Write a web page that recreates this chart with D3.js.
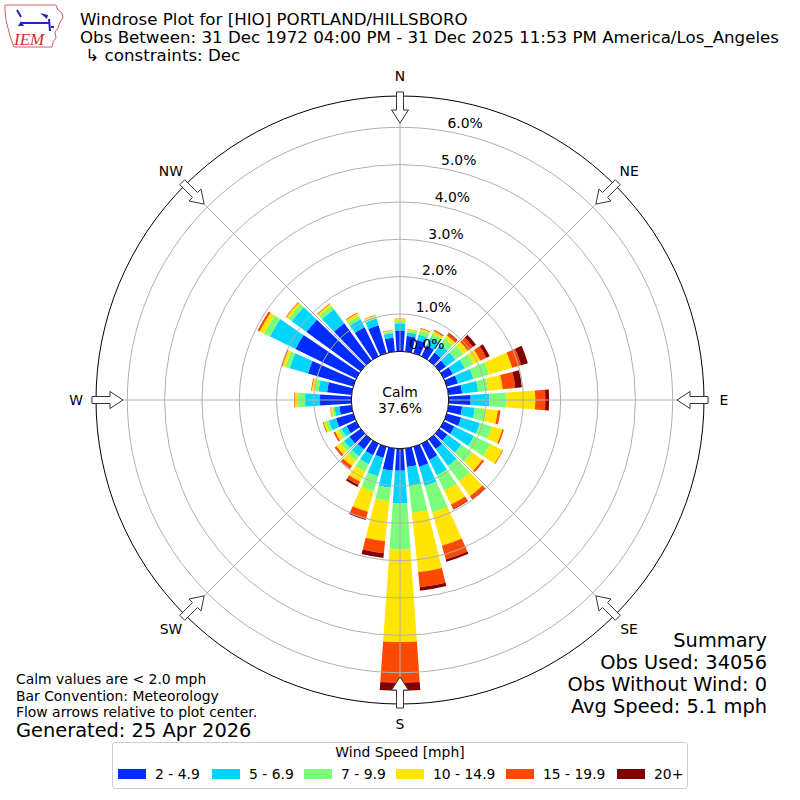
<!DOCTYPE html>
<html>
<head>
<meta charset="utf-8">
<script src="https://cdn.jsdelivr.net/npm/d3@7"></script>
<style>
  body { margin: 0; background: #fff; }
  text { font-family: "DejaVu Sans", sans-serif; fill: #000; }
</style>
</head>
<body>
<svg width="800" height="800"></svg>
<script>
// direcciones cada 10 grados, convención meteorológica
var directions = d3.range(0, 360, 10);
var speedBins = ["2 - 4.9", "5 - 6.9", "7 - 9.9", "10 - 14.9", "15 - 19.9", "20+"];
var binColors = ["#002cff", "#00d4ff", "#7bff7b", "#ffe500", "#ff4900", "#800000"];
// porcentaje de observaciones por direccion y rango de velocidad
var bin2to5 = [0.56, 0.42, 0.37, 0.32, 0.27, 0.22, 0.27, 0.31, 0.37, 0.59, 0.37, 0.40, 0.32, 0.27, 0.32, 0.48, 0.56, 0.50,
               0.59, 0.60, 0.31, 0.34, 0.33, 0.37, 0.29, 0.48, 0.33, 0.84, 0.66, 1.26, 1.81, 1.79, 1.24, 0.86, 0.78, 0.37];
var bin5to7 = [0.19, 0.10, 0.15, 0.24, 0.26, 0.31, 0.36, 0.43, 0.43, 0.50, 0.34, 0.52, 0.58, 0.46, 0.56, 0.46, 0.53, 0.51,
               0.88, 0.46, 0.51, 0.27, 0.23, 0.18, 0.15, 0.20, 0.13, 0.40, 0.23, 0.51, 0.76, 0.49, 0.46, 0.24, 0.19, 0.13];
var bin7to10 = [0.07, 0.05, 0.11, 0.12, 0.20, 0.26, 0.26, 0.44, 0.27, 0.46, 0.30, 0.34, 0.49, 0.36, 0.51, 0.46, 0.74, 0.73,
                1.23, 0.36, 0.43, 0.23, 0.15, 0.12, 0.10, 0.09, 0.06, 0.20, 0.10, 0.12, 0.18, 0.12, 0.12, 0.10, 0.06, 0.05];
var bin10to15 = [0.05, 0.03, 0.05, 0.07, 0.10, 0.15, 0.20, 0.64, 0.39, 0.77, 0.32, 0.29, 0.36, 0.33, 0.49, 0.41, 0.93, 1.59,
                 2.48, 1.08, 0.56, 0.29, 0.17, 0.13, 0.09, 0.06, 0.05, 0.07, 0.08, 0.08, 0.13, 0.06, 0.06, 0.08, 0.03, 0.03];
var bin15to20 = [0.01, 0.01, 0.02, 0.03, 0.07, 0.17, 0.18, 0.25, 0.34, 0.27, 0.07, 0.04, 0.02, 0.06, 0.10, 0.13, 0.38, 0.41,
                 1.09, 0.32, 0.20, 0.10, 0.09, 0.05, 0.05, 0.02, 0.01, 0.02, 0.02, 0.03, 0.06, 0.02, 0.02, 0.02, 0.01, 0.01];
var bin20up = [0, 0, 0, 0.01, 0.02, 0.10, 0.10, 0.19, 0.18, 0.10, 0, 0, 0, 0, 0.02, 0.02, 0.06, 0.09,
               0.21, 0.13, 0.03, 0.06, 0.01, 0.01, 0, 0, 0, 0, 0, 0, 0, 0, 0, 0, 0, 0];
var rTicks = [0, 1, 2, 3, 4, 5, 6];
var compassLabels = ["N", "NE", "E", "SE", "S", "SW", "W", "NW"];
var titleLines = ["Windrose Plot for [HIO] PORTLAND/HILLSBORO",
                  "Obs Between: 31 Dec 1972 04:00 PM - 31 Dec 2025 11:53 PM America/Los_Angeles",
                  " \u21b3 constraints: Dec"];
var notes = ["Calm values are < 2.0 mph", "Bar Convention: Meteorology", "Flow arrows relative to plot center."];
var summary = ["Summary", "Obs Used: 34056", "Obs Without Wind: 0", "Avg Speed: 5.1 mph"];
var calmPct = "37.6%";

var bins = [bin2to5, bin5to7, bin7to10, bin10to15, bin15to20, bin20up];

var svg = d3.select("svg"),
  cx = 400, cy = 400,
  outerR = 304,
  r = d3.scaleLinear().domain([0, 6]).range([48.7, 272.7]),
  calmR = r(0),
  rad = Math.PI / 180,
  fs = 13.9;

var g = svg.append("g").attr("transform", "translate(" + cx + "," + cy + ")");

// barras apiladas
var arc = d3.arc();
directions.forEach(function(dir, i) {
  var cum = 0;
  bins.forEach(function(b, k) {
    var v = b[i];
    if (v > 0) {
      g.append("path")
        .attr("d", arc({innerRadius: r(cum), outerRadius: r(cum + v),
                        startAngle: (dir - 4) * rad, endAngle: (dir + 4) * rad}))
        .attr("fill", binColors[k]);
    }
    cum += v;
  });
});

// rejilla por encima de las barras
rTicks.slice(1).forEach(function(t) {
  g.append("circle").attr("r", r(t)).attr("fill", "none").attr("stroke", "#b0b0b0").attr("stroke-width", 1);
});
d3.range(0, 360, 45).forEach(function(a) {
  g.append("line")
    .attr("x1", 0).attr("y1", 0)
    .attr("x2", outerR * Math.sin(a * rad)).attr("y2", -outerR * Math.cos(a * rad))
    .attr("stroke", "#b0b0b0").attr("stroke-width", 1);
});
g.append("circle").attr("r", outerR).attr("fill", "none").attr("stroke", "#000").attr("stroke-width", 1);

// flechas de flujo
function pt(a, rr, off) {
  return [rr * Math.sin(a) + off * Math.cos(a), -rr * Math.cos(a) + off * Math.sin(a)];
}
compassLabels.forEach(function(lbl, i) {
  var a = i * 45 * rad;
  var pts = [[308, -3.5], [290, -3.5], [290, -8.5], [277, 0], [290, 8.5], [290, 3.5], [308, 3.5]]
    .map(function(p) { return pt(a, p[0], p[1]); });
  g.append("path")
    .attr("d", "M" + pts.join("L") + "Z")
    .attr("fill", "#fff").attr("stroke", "#333").attr("stroke-width", 1);
  var lp = pt(a, 324, 0);
  g.append("text")
    .attr("x", lp[0]).attr("y", lp[1])
    .attr("text-anchor", "middle").attr("dominant-baseline", "central")
    .attr("font-size", fs)
    .text(lbl);
});

// circulo de calma
g.append("circle").attr("r", calmR).attr("fill", "#fff").attr("stroke", "#000").attr("stroke-width", 1);
g.append("text").attr("y", -8).attr("text-anchor", "middle").attr("dominant-baseline", "central")
  .attr("font-size", fs).text("Calm");
g.append("text").attr("y", 8).attr("text-anchor", "middle").attr("dominant-baseline", "central")
  .attr("font-size", fs).text(calmPct);

// etiquetas radiales
var la = 9.8 * rad;
rTicks.forEach(function(t) {
  g.append("text")
    .attr("x", r(t) * Math.sin(la) + 1)
    .attr("y", -r(t) * Math.cos(la) - 8)
    .attr("dominant-baseline", "central")
    .attr("font-size", fs)
    .text(t.toFixed(1) + "%");
});

// titulo
titleLines.forEach(function(t, i) {
  svg.append("text").attr("x", 80).attr("y", 25 + i * 18).attr("font-size", 16.67)
    .style("white-space", "pre").text(t);
});

// logo IEM
var logo = svg.append("g");
logo.append("path")
  .attr("d", "M5,5 L56,5 L58,10 L62,13 L63,18 L60,22 L58,28 L55,32 L56,38 L53,42 L52,47 L14,47 L12,42 L10,36 L8,28 L6,20 L5,12 Z")
  .attr("fill", "#fff").attr("stroke", "#d06060").attr("stroke-width", 1);
logo.append("path").attr("d", "M22,23 L50,23 M17,10 L21,17 M49,19 L50,31 M51,27 L54,27")
  .attr("fill", "none").attr("stroke", "#2424c8").attr("stroke-width", 2);
logo.append("path").attr("d", "M40,13 L48,15 L47,19 Z").attr("fill", "#2424c8");
logo.append("path").attr("d", "M18,26 L21,21 L24,26 Z").attr("fill", "#2424c8");
logo.append("text").attr("x", 14).attr("y", 45).attr("font-size", 17)
  .attr("font-style", "italic").style("font-family", "'Liberation Serif', serif").style("fill", "#c83030").text("IEM");

// notas
notes.forEach(function(t, i) {
  svg.append("text").attr("x", 16).attr("y", 684 + i * 16.5).attr("font-size", fs).text(t);
});
svg.append("text").attr("x", 16).attr("y", 737).attr("font-size", 19.4).text("Generated: 25 Apr 2026");

// resumen
summary.forEach(function(t, i) {
  svg.append("text").attr("x", 767).attr("y", 647 + i * 22).attr("text-anchor", "end")
    .attr("font-size", 19.4).text(t);
});

// leyenda
var swatchX = [118, 212, 304, 396, 506, 617];
var leg = svg.append("g");
leg.append("rect").attr("x", 112.5).attr("y", 742.5).attr("width", 575).attr("height", 46).attr("rx", 3)
  .attr("fill", "#fff").attr("stroke", "#cccccc");
leg.append("text").attr("x", 400).attr("y", 752).attr("text-anchor", "middle")
  .attr("dominant-baseline", "central").attr("font-size", fs).text("Wind Speed [mph]");
speedBins.forEach(function(s, k) {
  leg.append("rect").attr("x", swatchX[k]).attr("y", 769).attr("width", 28).attr("height", 10).attr("fill", binColors[k]);
  leg.append("text").attr("x", swatchX[k] + 37).attr("y", 774).attr("dominant-baseline", "central")
    .attr("font-size", fs).text(s);
});
</script>
</body>
</html>
